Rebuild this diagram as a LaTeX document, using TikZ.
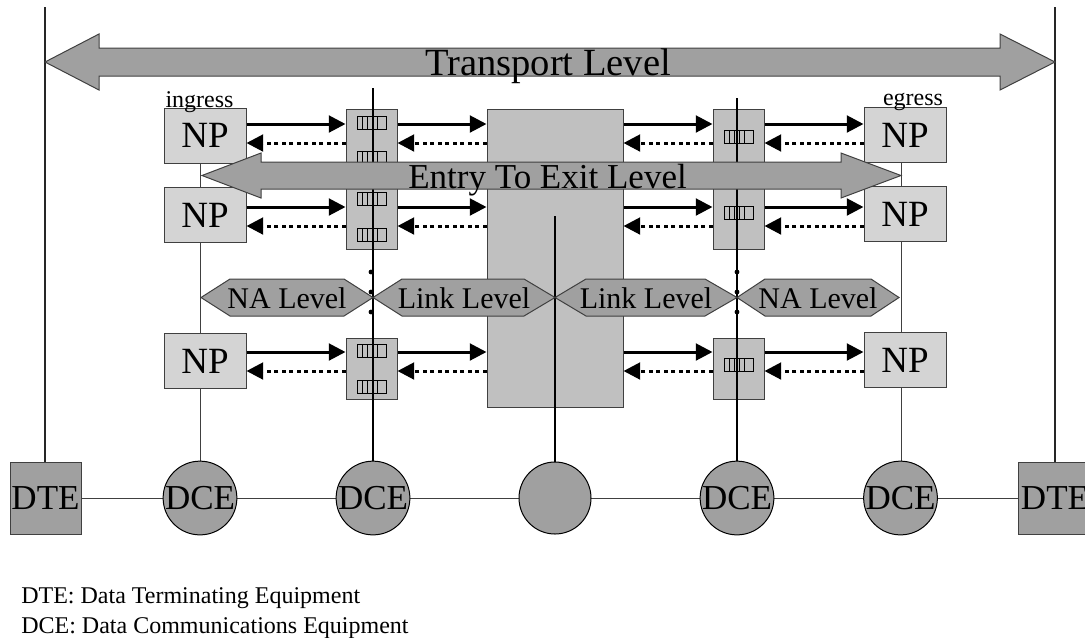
\documentclass[tikz,border=0pt]{standalone}
\usepackage{fontspec}
\setmainfont{Liberation Serif}
\usetikzlibrary{arrows.meta,calc}
\definecolor{npfill}{HTML}{D4D4D4}
\definecolor{qfill}{HTML}{C0C0C0}
\definecolor{darkfill}{HTML}{A0A0A0}
\definecolor{bordc}{HTML}{404040}
\tikzset{
  npbox/.style={draw=bordc, fill=npfill, line width=0.75pt, minimum width=61.5pt, minimum height=41.25pt, inner sep=0pt, font=\fontsize{27.75}{30}\selectfont},
  qbox/.style={draw=bordc, fill=qfill, line width=0.75pt, minimum width=38.25pt, minimum height=45.75pt, inner sep=0pt},
  bigbox/.style={draw=bordc, fill=qfill, line width=0.75pt, minimum width=102pt, minimum height=223.5pt, inner sep=0pt},
  dceball/.style={circle, draw=black, fill=darkfill, line width=0.75pt, minimum size=54pt, inner sep=0pt, font=\fontsize{26.25}{28}\selectfont},
  dtebox/.style={draw=bordc, fill=darkfill, line width=0.75pt, minimum width=53.25pt, minimum height=54pt, inner sep=0pt, font=\fontsize{26.25}{28}\selectfont},
  bigarrow/.style={draw=bordc, fill=darkfill, line width=0.75pt, line join=miter},
  hexa/.style={draw=bordc, fill=darkfill, line width=0.75pt},
  thinline/.style={draw=bordc, line width=0.75pt},
  outerline/.style={draw=black!85, line width=1.1pt},
  thickline/.style={draw=black, line width=1.6pt},
  fwd/.style={draw=black, line width=2.25pt, -{Triangle[length=12.5pt,width=12.5pt]}},
  bwd/.style={draw=black, line width=2.25pt, dash pattern=on 3pt off 2.6pt, -{Triangle[length=12.5pt,width=12.5pt]}},
  lvltext/.style={anchor=base, inner sep=0pt, font=\fontsize{22.5}{24}\selectfont},
  smalltext/.style={anchor=base, inner sep=0pt, font=\fontsize{18}{20}\selectfont},
  dotmark/.style={fill=black, circle, inner sep=0pt, minimum size=3.6pt},
  qicon/.pic={
    \draw[line width=0.75pt, draw=black, fill=qfill] (0,0) rectangle (29,13);
    \foreach \u in {5.7,10.7,15.7,20.7} \draw[line width=0.75pt] (\u,0) -- (\u,13);
  }
}
\begin{document}
\begin{tikzpicture}[x=0.75pt,y=-0.75pt]
\useasboundingbox (0,0) rectangle (1085,637);

% rows
\coordinate (ra) at (0,124);
\coordinate (rb) at (0,143);
\coordinate (rc) at (0,207);
\coordinate (rd) at (0,226);
\coordinate (re) at (0,352);
\coordinate (rf) at (0,371);
\coordinate (topL) at (45,7);
\coordinate (topR) at (1055,7);
\coordinate (tq1) at (373,88);
\coordinate (tq2) at (737,98);
\coordinate (tc) at (555,216);

% bottom nodes (placed first for references, drawn again later on top)
\path (45.5,498) node[dtebox] (dteL) {DTE};
\path (1055,498) node[dtebox, minimum width=55.5pt] (dteR) {DTE};

% thin lines
\draw[outerline] (topL) -- (45,462);
\draw[outerline] (topR) -- (1055,462);
\draw[thinline] (200,163) -- (200,462);
\draw[thinline] (901,162) -- (901,462);
\draw[thinline] (dteL.east) -- (dteR.west);

% Transport level arrow
\draw[bigarrow] (45,62) -- (99,34) -- (99,48) -- (1000,48) -- (1000,34) -- (1055,62)
  -- (1000,90) -- (1000,76) -- (99,76) -- (99,90) -- cycle;
\node[anchor=base, inner sep=0pt, font=\fontsize{28.9}{30}\selectfont] (tlabel) at (548,75.5) {Transport Level};

% big center box
\node[bigbox] (core) at (555,258) {};

% NP boxes
\node[npbox] (npL1) at (205,135.5) {NP};
\node[npbox] (npL2) at (205,215) {NP};
\node[npbox] (npL3) at (205,361) {NP};
\node[npbox] (npR1) at (905,135) {NP};
\node[npbox] (npR2) at (905,214) {NP};
\node[npbox] (npR3) at (905,360) {NP};
\node[smalltext] (ingress) at (199.5,107) {ingress};
\node[smalltext] (egress) at (913,105) {egress};

% queue boxes
\node[qbox] (qL1) at (371.5,139.5) {};
\node[qbox] (qL2) at (371.5,218.5) {};
\node[qbox] (qL3) at (371.5,368.5) {};
\node[qbox] (qR1) at (738.5,139.5) {};
\node[qbox] (qR2) at (738.5,218.5) {};
\node[qbox] (qR3) at (738.5,368.5) {};

% queue icons
\pic at (357,116) {qicon};
\pic at (357,151) {qicon};
\pic at (357,192) {qicon};
\pic at (357,228) {qicon};
\pic at (357,344) {qicon};
\pic at (357,380) {qicon};
\pic at (724,130) {qicon};
\pic at (724,206) {qicon};
\pic at (724,358) {qicon};

% circles
\node[dceball] (dce1) at (200,498) {DCE};
\node[dceball] (dce2) at (373,498) {DCE};
\node[dceball] (hub) at (555,498) {};
\node[dceball] (dce4) at (737,498) {DCE};
\node[dceball] (dce5) at (900.5,498) {DCE};

% thick lines
\draw[thickline] (tq1) -- (dce2.north);
\draw[thickline] (tq2) -- (dce4.north);
\draw[thickline] (tc) -- (hub.north);

% horizontal arrows, left half
\draw[fwd] (npL1.east |- ra) -- (qL1.west |- ra);
\draw[bwd] (qL1.west |- rb) -- (npL1.east |- rb);
\draw[fwd] (qL1.east |- ra) -- (core.west |- ra);
\draw[bwd] (core.west |- rb) -- (qL1.east |- rb);
\draw[fwd] (npL2.east |- rc) -- (qL2.west |- rc);
\draw[bwd] (qL2.west |- rd) -- (npL2.east |- rd);
\draw[fwd] (qL2.east |- rc) -- (core.west |- rc);
\draw[bwd] (core.west |- rd) -- (qL2.east |- rd);
\draw[fwd] (npL3.east |- re) -- (qL3.west |- re);
\draw[bwd] (qL3.west |- rf) -- (npL3.east |- rf);
\draw[fwd] (qL3.east |- re) -- (core.west |- re);
\draw[bwd] (core.west |- rf) -- (qL3.east |- rf);
% right half
\draw[fwd] (core.east |- ra) -- (qR1.west |- ra);
\draw[bwd] (qR1.west |- rb) -- (core.east |- rb);
\draw[fwd] (qR1.east |- ra) -- (npR1.west |- ra);
\draw[bwd] (npR1.west |- rb) -- (qR1.east |- rb);
\draw[fwd] (core.east |- rc) -- (qR2.west |- rc);
\draw[bwd] (qR2.west |- rd) -- (core.east |- rd);
\draw[fwd] (qR2.east |- rc) -- (npR2.west |- rc);
\draw[bwd] (npR2.west |- rd) -- (qR2.east |- rd);
\draw[fwd] (core.east |- re) -- (qR3.west |- re);
\draw[bwd] (qR3.west |- rf) -- (core.east |- rf);
\draw[fwd] (qR3.east |- re) -- (npR3.west |- re);
\draw[bwd] (npR3.west |- rf) -- (qR3.east |- rf);

% Entry to exit arrow
\draw[bigarrow] (202,175.5) -- (261,153) -- (261,162) -- (841,162) -- (841,153) -- (901,175.5)
  -- (841,198) -- (841,189) -- (261,189) -- (261,198) -- cycle;
\node[anchor=base, inner sep=0pt, font=\fontsize{26.25}{28}\selectfont] (elabel) at (547.5,188) {Entry To Exit Level};

% level hexagons
\draw[hexa] (201,297.5) -- (230,279) -- (344,279) -- (373,297.5) -- (344,316) -- (230,316) -- cycle;
\draw[hexa] (373,297.5) -- (402,279) -- (524,279) -- (555,297.5) -- (524,316) -- (402,316) -- cycle;
\draw[hexa] (555,297.5) -- (586,279) -- (705,279) -- (737,297.5) -- (705,316) -- (586,316) -- cycle;
\draw[hexa] (737,297.5) -- (765,279) -- (871,279) -- (899,297.5) -- (871,316) -- (765,316) -- cycle;
\node[lvltext] (na1) at (287,308) {NA Level};
\node[lvltext] (lk1) at (464,308) {Link Level};
\node[lvltext] (lk2) at (646,308) {Link Level};
\node[lvltext] (na2) at (818,308) {NA Level};

% dots
\node[dotmark] (d1) at (371,272) {};
\node[dotmark] (d2) at (371,292) {};
\node[dotmark] (d3) at (371,312) {};
\node[dotmark] (d4) at (737,272) {};
\node[dotmark] (d5) at (737,292) {};
\node[dotmark] (d6) at (737,312) {};

% redraw DTE boxes on top of lines
\node[dtebox] at (dteL) {DTE};
\node[dtebox, minimum width=55.5pt] at (dteR) {DTE};

% footnote
\node[smalltext, anchor=base west] (fn1) at (21,603) {DTE: Data Terminating Equipment};
\node[smalltext, anchor=base west] (fn2) at (21,633) {DCE: Data Communications Equipment};
\end{tikzpicture}
\end{document}
